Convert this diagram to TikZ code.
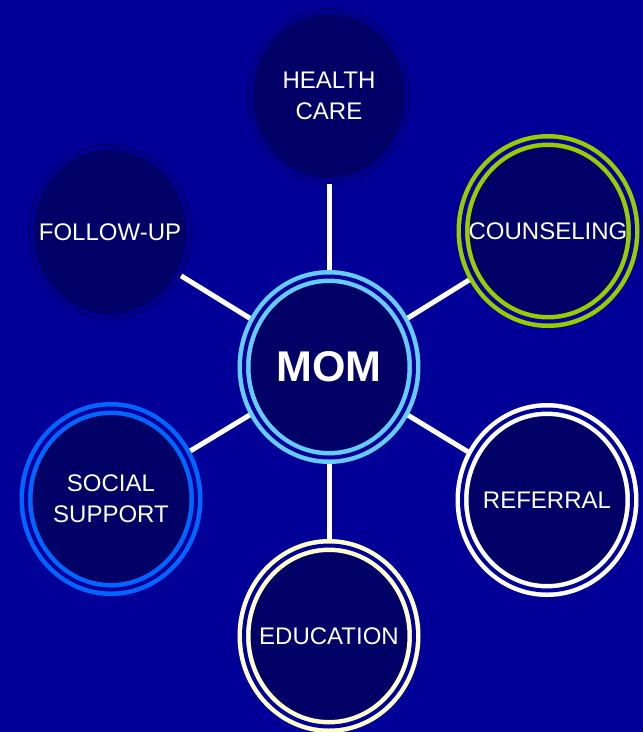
\documentclass[tikz,border=0pt]{standalone}
\usepackage{fontspec}
\setmainfont{Liberation Sans}
\usepackage{tikz}
\usetikzlibrary{shapes.geometric}
\definecolor{fond}{RGB}{0,0,153}
\definecolor{interieur}{RGB}{0,0,102}
\definecolor{sombre}{RGB}{0,0,112}
\definecolor{ciel}{RGB}{102,204,255}
\definecolor{vert}{RGB}{153,204,0}
\definecolor{azur}{RGB}{0,102,255}
\definecolor{creme}{RGB}{255,255,204}
\tikzset{
Bulle/.style={
 ellipse,
 draw=#1,
 fill=interieur,
 double=fond,
 double distance=4pt,
 line width=4.5pt,
 minimum width=170pt,
 minimum height=181pt,
 inner xsep=-45pt,
 inner ysep=-30pt,
 outer sep=6.5pt,
 text=white,
 align=center,
 font=\fontsize{24}{31}\selectfont
 },
SombreBulle/.style={
 Bulle=sombre,
 double distance=3pt,
 line width=2pt,
 minimum width=157pt,
 minimum height=169pt,
 outer sep=3.5pt
 },
Lien/.style={
 draw=white,
 line width=5pt
 }
}
\begin{document}
\begin{tikzpicture}[x=1pt,y=-1pt]
\fill[fond] (0,0) rectangle (643,732);
\useasboundingbox (0,0) rectangle (643,732);
% centre
\node[Bulle=ciel, font=\bfseries\fontsize{43}{43}\selectfont] (mom) at (329,367) {MOM};
% tour
\node[SombreBulle] (sante) at (329,96) {HEALTH\\CARE};
\node[Bulle=vert] (conseil) at (548,231) {COUNSELING};
\node[Bulle=white] (renvoi) at (547,500) {REFERRAL};
\node[Bulle=creme] (education) at (329,636) {EDUCATION};
\node[Bulle=azur] (soutien) at (111,499) {SOCIAL\\SUPPORT};
\node[SombreBulle] (suivi) at (110,232) {FOLLOW-UP};
\foreach \n in {sante,conseil,renvoi,education,soutien,suivi}
 \draw[Lien] (mom) -- (\n);
\end{tikzpicture}
\end{document}
